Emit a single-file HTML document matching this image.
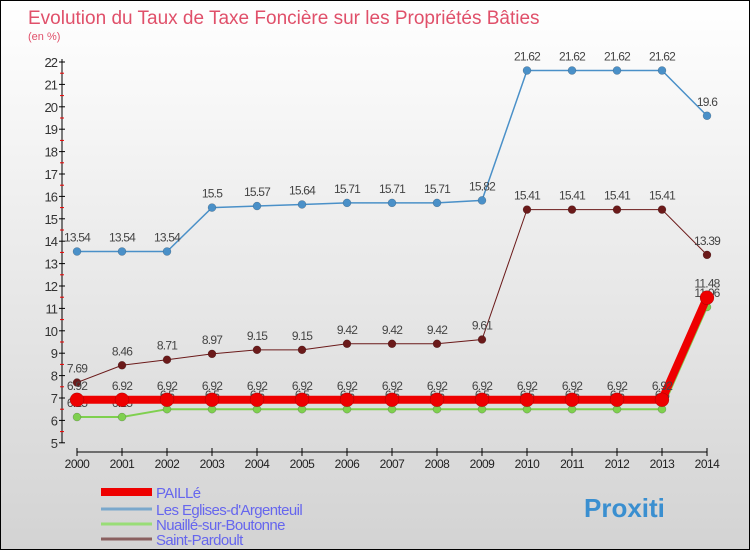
<!DOCTYPE html>
<html><head><meta charset="utf-8"><style>
body{margin:0;width:750px;height:550px;overflow:hidden;font-family:"Liberation Sans",sans-serif}
#wrap{position:relative;width:748px;height:548px;border:1px solid #000;background:linear-gradient(#fff,#d3d3d3)}
svg{position:absolute;left:0;top:0}
</style></head><body>
<div id="wrap">
<svg id="chart" width="750" height="550">
<text x="27" y="23" font-size="19" fill="#e0506a">Evolution du Taux de Taxe Foncière sur les Propriétés Bâties</text>
<text x="27" y="39" font-size="11" fill="#e0506a">(en %)</text>
</svg>
</div>
<script>
const years=[2000,2001,2002,2003,2004,2005,2006,2007,2008,2009,2010,2011,2012,2013,2014];
const yTicks=[5,6,7,8,9,10,11,12,13,14,15,16,17,18,19,20,21,22];
const seriesNames=["PAILLé","Les Eglises-d'Argenteuil","Nuaillé-sur-Boutonne","Saint-Pardoult"];
const paille=[6.92,6.92,6.92,6.92,6.92,6.92,6.92,6.92,6.92,6.92,6.92,6.92,6.92,6.92,11.48];
const eglises=[13.54,13.54,13.54,15.5,15.57,15.64,15.71,15.71,15.71,15.82,21.62,21.62,21.62,21.62,19.6];
const nuaille=[6.15,6.15,6.5,6.5,6.5,6.5,6.5,6.5,6.5,6.5,6.5,6.5,6.5,6.5,11.06];
const pardoult=[7.69,8.46,8.71,8.97,9.15,9.15,9.42,9.42,9.42,9.61,15.41,15.41,15.41,15.41,13.39];
const svg=document.getElementById('chart');const NS='http://www.w3.org/2000/svg';
const xS=i=>76+i*45;const yS=v=>61+(22-v)*22.4;
function mk(t,a,name){const e=document.createElementNS(NS,t);for(const k in a)e.setAttribute(k,a[k]);


svg.appendChild(e);return e;}
mk('line',{x1:61,y1:yS(22)-3,x2:61,y2:yS(5),stroke:'#000'},'y-axis');
yTicks.forEach(v=>{mk('line',{x1:58,y1:yS(v),x2:64,y2:yS(v),stroke:'#000'},'y-tick');
if(v<22)mk('line',{x1:59,y1:yS(v+0.5),x2:63,y2:yS(v+0.5),stroke:'#e00'},'y-minor-tick');
const t=mk('text',{x:56,y:yS(v)+5,'font-size':13,'text-anchor':'end',fill:'#333','letter-spacing':'-1'},'y-tick-label');t.textContent=v;});
mk('line',{x1:76,y1:451,x2:706,y2:451,stroke:'#000'},'x-axis');
years.forEach((y,i)=>{mk('line',{x1:xS(i),y1:447,x2:xS(i),y2:455,stroke:'#000'},'x-tick');
const t=mk('text',{x:xS(i),y:467,'font-size':12,'text-anchor':'middle',fill:'#222','letter-spacing':'-0.5'},'x-tick-label');t.textContent=y;});
function series(vals,color,w,r,name){
mk('polyline',{points:vals.map((v,i)=>xS(i)+','+yS(v)).join(' '),fill:'none',stroke:color,'stroke-width':w},name+'-line');
vals.forEach((v,i)=>{mk('circle',{cx:xS(i),cy:yS(v),r:r,fill:color,stroke:'rgba(0,0,0,0.3)','stroke-width':0.5},name+'-point');
const t=mk('text',{x:xS(i),y:yS(v)-10,'font-size':12,'text-anchor':'middle',fill:'#444','letter-spacing':'-0.8'},name+'-value-label');t.textContent=v;});}
series(eglises,'#4a90c8',1.5,4,'eglises');
series(pardoult,'#6b1a1a',1,4,'pardoult');
series(nuaille,'#7fd04f',2,4,'nuaille');
series(paille,'#ee0000',8,7,'paille');
const cols=['#ee0000','#7aa8cc','#99dd77','#8a6060'];const ws=[8,3,3,3];const ly=[491,508,523,538];
seriesNames.forEach((n,i)=>{mk('line',{x1:100,y1:ly[i],x2:151,y2:ly[i],stroke:cols[i],'stroke-width':ws[i]},'legend-swatch');
const t=mk('text',{x:155,y:ly[i]+6,'font-size':15,fill:'#6666ee','letter-spacing':'-0.6'},'legend-entry');t.textContent=n;});
const lg=mk('text',{x:583,y:516,'font-size':26,'font-weight':'bold',fill:'#3a8fd0'},'logo');lg.textContent='Proxiti';
</script>
</body></html>
